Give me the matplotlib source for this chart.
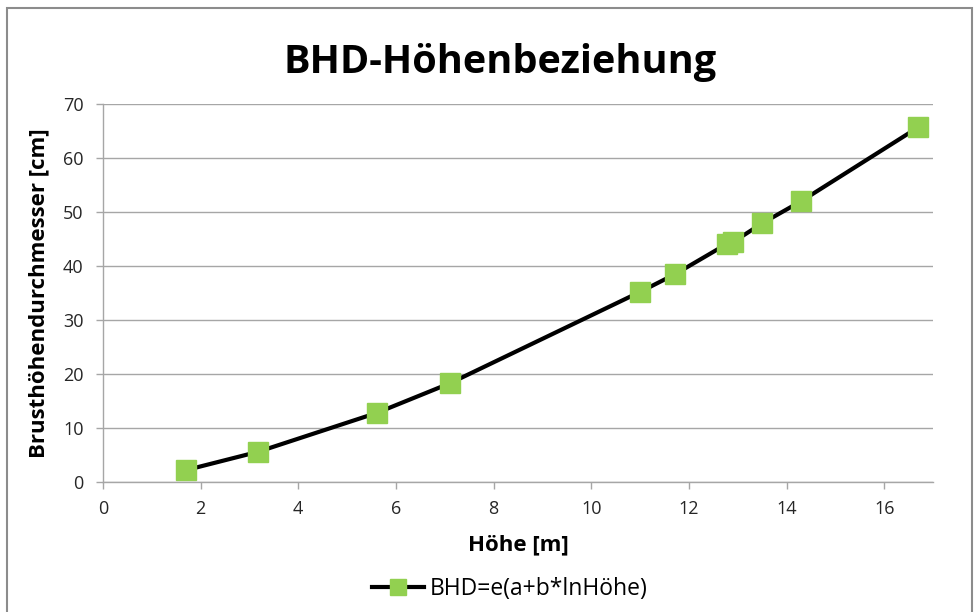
import numpy as np
import matplotlib.pyplot as plt
from matplotlib.patches import Rectangle

plt.rcParams['font.family'] = ['Open Sans', 'DejaVu Sans']

# Höhe [m] und BHD [cm]
hoehe = [1.70, 3.18, 5.61, 7.11, 11.00, 11.72, 12.78, 12.90, 13.50, 14.30, 16.70]
bhd = [2.2, 5.6, 12.8, 18.3, 35.2, 38.5, 44.1, 44.4, 47.9, 52.0, 65.7]
x_ticks = [0, 2, 4, 6, 8, 10, 12, 14, 16]
y_ticks = [0, 10, 20, 30, 40, 50, 60, 70]

fig = plt.figure(figsize=(9.79, 6.12), dpi=100)
# outer chart frame
fig.patches.append(Rectangle((7 / 979, -0.01), 965 / 979, 1 - 8 / 612 + 0.01,
                             transform=fig.transFigure, fill=False,
                             edgecolor='#8c8c8c', linewidth=1.5))

ax = fig.add_axes([103 / 979, 1 - 482 / 612, (933 - 103) / 979, (482 - 104) / 612])
ax.plot(hoehe, bhd, color='black', linewidth=3, marker='s', markersize=15,
        markerfacecolor='#92d050', markeredgecolor='#92d050',
        label='BHD=e(a+b*lnHöhe)')

ax.set_xlim(0, 17)
ax.set_ylim(0, 70)
ax.set_xticks(x_ticks)
ax.set_yticks(y_ticks)
ax.yaxis.grid(True, color='#a6a6a6', linewidth=1)
ax.set_axisbelow(True)
for s in ['top', 'right']:
    ax.spines[s].set_visible(False)
for s in ['left', 'bottom']:
    ax.spines[s].set_color('#a6a6a6')
    ax.spines[s].set_linewidth(1)
ax.tick_params(colors='#a6a6a6', labelcolor='#262626', labelsize=13, length=5, width=1)
ax.tick_params(axis='x', pad=8)
ax.tick_params(axis='y', pad=9)

fig.text(500 / 979, 1 - 63 / 612, 'BHD-Höhenbeziehung', fontsize=28.5,
         fontweight='bold', ha='center', va='center')
ax.set_xlabel('Höhe [m]', fontsize=16, fontweight='bold', labelpad=12)
ax.set_ylabel('Brusthöhendurchmesser [cm]', fontsize=16, fontweight='bold', labelpad=10)

ax.legend(loc='upper center', bbox_to_anchor=(0.49, -0.198), frameon=False,
          fontsize=16.5, handlelength=2.3, handletextpad=0.25, markerscale=0.8)

fig.savefig('out.png', dpi=100)
